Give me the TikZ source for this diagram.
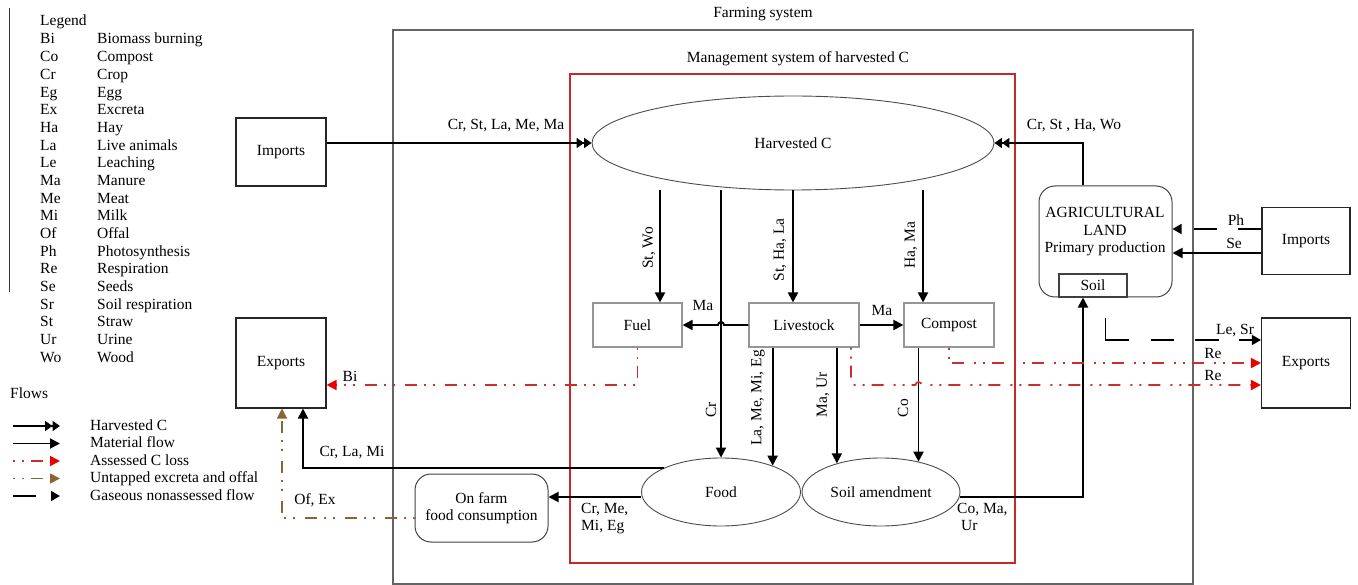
\documentclass[tikz,border=0pt]{standalone}
\usepackage{fontspec}
\setmainfont{Liberation Serif}
\usetikzlibrary{arrows.meta,shapes.geometric,calc}
\definecolor{cFarm}{RGB}{100,100,100}
\definecolor{cMgmt}{RGB}{200,40,40}
\definecolor{cLoss}{RGB}{205,45,45}
\definecolor{cLossTip}{RGB}{235,0,0}
\definecolor{cUntap}{RGB}{140,100,50}
\definecolor{cBox}{RGB}{150,150,150}

\begin{document}
\begin{tikzpicture}[x=1pt,y=-1pt,font=\fontsize{15.5}{17.5}\selectfont,
  box/.style={draw=black!85,line width=1.1pt,inner sep=0pt},
  grbox/.style={draw=cBox,line width=1.1pt,inner sep=0pt,minimum height=44pt},
  rbox/.style={draw=black!75,line width=1pt,rounded corners=16pt,inner sep=0pt},
  ell/.style={ellipse,draw=black!70,line width=0.9pt,inner sep=0pt},
  mflow/.style={line width=1.9pt,-{Triangle[length=10pt,width=10pt]}},
  hflow/.style={line width=1.7pt,-{Triangle[length=7.5pt,width=10pt]Triangle[length=7.5pt,width=10pt]}},
  loss/.style={cLoss,line width=1.7pt,dash pattern=on 2pt off 7pt on 2pt off 7pt on 12pt off 10pt,-{Triangle[length=10pt,width=10pt,color=cLossTip]}},
  untap/.style={loss,cUntap,-{Triangle[length=10pt,width=10pt,color=cUntap]}},
  gflow/.style={line width=1.5pt,dash pattern=on 23pt off 21pt,-{Triangle[length=9pt,width=10pt]}},
  lbl/.style={inner sep=0pt},
  legtext/.style={anchor=base west,inner sep=0pt}]
\useasboundingbox (0,0) rectangle (1358,585);

% legend
\draw[black!80,line width=1pt] (9,8) -- (9,292);
\node[legtext] (legtitle) at (40,26) {Legend};
\foreach \ab/\txt [count=\i] in {Bi/Biomass burning,Co/Compost,Cr/Crop,Eg/Egg,Ex/Excreta,Ha/Hay,La/Live animals,Le/Leaching,Ma/Manure,Me/Meat,Mi/Milk,Of/Offal,Ph/Photosynthesis,Re/Respiration,Se/Seeds,Sr/Soil respiration,St/Straw,Ur/Urine,Wo/Wood}{
  \node[legtext] (ab\i) at (40,{44+17.67*(\i-1)}) {\ab};
  \node[legtext] (tx\i) at (97,{44+17.67*(\i-1)}) {\txt};
}
\node[legtext] (flows) at (10,399) {Flows};
\foreach \st/\txt [count=\i] in {hflow/Harvested C,mflow/Material flow,loss/Assessed C loss,untap/Untapped excreta and offal,gflow/Gaseous nonassessed flow}{
  \node[legtext] (fl\i) at (90,{430+17.5*(\i-1)}) {\txt};
  \coordinate (fa\i) at (13,{426+17.5*(\i-1)});
  \coordinate (fb\i) at (60,{426+17.5*(\i-1)});
  \draw[\st] (fa\i) -- (fb\i);
}

% system boundaries
\node[draw=cFarm,line width=1.1pt,minimum width=800pt,minimum height=554pt] (farm) at (793,307) {};
\node[lbl] (farmtitle) at (763,14) {Farming system};
\node[draw=cMgmt,line width=1.6pt,minimum width=445pt,minimum height=489pt] (mgmt) at (792.5,318.5) {};
\node[lbl] (mgmttitle) at (798,59) {Management system of harvested C};

% compartments
\node[box,minimum width=90pt,minimum height=68pt] (imp1) at (281,152) {Imports};
\node[box,minimum width=90pt,minimum height=90pt] (exp1) at (281,363) {Exports};
\node[box,minimum width=88pt,minimum height=67pt] (imp2) at (1306,241) {Imports};
\node[box,minimum width=89pt,minimum height=90pt] (exp2) at (1306,363) {Exports};
\node[ell,minimum width=402pt,minimum height=94pt] (harv) at (793,143) {Harvested C};
\node[grbox,minimum width=89pt] (fuel) at (637.5,325) {Fuel};
\node[grbox,minimum width=110pt] (lives) at (804,325) {Livestock};
\node[grbox,minimum width=90pt] (compost) at (949,325) {Compost};
\node[ell,minimum width=159pt,minimum height=68pt] (food) at (721,492) {Food};
\node[ell,minimum width=158pt,minimum height=68pt] (soilam) at (881,492) {Soil amendment};
\node[rbox,minimum width=133pt,minimum height=68pt,align=center] (onfarm) at (481.5,508) {On farm\\food consumption};
\node[rbox,minimum width=133pt,minimum height=111pt] (agri) at (1105.5,241.5) {};
\node[align=center,inner sep=0pt] (agritxt) at (1105,232) {AGRICULTURAL\\LAND\\Primary production};
\node[box,draw=black!75,minimum width=68pt,minimum height=23pt] (soil) at (1093,285.5) {Soil};

% harvested C inflows
\draw[hflow] (imp1.east |- harv.west) -- (harv.west);
\node[lbl] (l-imp) at (506,126) {Cr, St, La, Me, Ma};
\draw[hflow] ($(agri.north)+(-22.5,0)$) |- (harv.east);
\node[lbl] (l-land) at (1074,126) {Cr, St , Ha, Wo};

% from harvested C
\coordinate (xSt) at (660,0);
\coordinate (xHa) at (923,0);
\draw[mflow] (harv.south -| xSt) -- (fuel.north -| xSt);
\node[lbl,rotate=90] (l-stwo) at (649,248) {St, Wo};
\draw[mflow] (harv.south -| food.north) -- (food.north);
\node[lbl,rotate=90] (l-cr) at (711,410) {Cr};
\draw[mflow] (harv.south) -- (harv.south |- lives.north);
\node[lbl,rotate=90] (l-stha) at (780,250) {St, Ha, La};
\draw[mflow] (harv.south -| xHa) -- (compost.north -| xHa);
\node[lbl,rotate=90] (l-hama) at (911,245) {Ha, Ma};

% livestock outputs
\coordinate (hopL) at ($(food.north |- lives.west)+(3,0)$);
\draw[mflow] (lives.west) -- (hopL) arc[start angle=0,end angle=180,radius=3pt] -- (fuel.east);
\node[lbl] (l-ma1) at (703,306) {Ma};
\draw[mflow] (lives.east) -- (compost.west);
\node[lbl] (l-ma2) at (882,311) {Ma};
\draw[mflow] (lives.south -| food.27) -- (food.27);
\node[lbl,rotate=90] (l-lame) at (758,398) {La, Me, Mi, Eg};
\draw[mflow] (lives.south -| soilam.147) -- (soilam.147);
\node[lbl,rotate=90] (l-maur) at (823,395) {Ma, Ur};
\draw[mflow] (compost.south -| soilam.39) -- (soilam.39);
\node[lbl,rotate=90] (l-co) at (903,408) {Co};

% food outputs
\coordinate (fw) at ([yshift=-5pt]food.west);
\draw[mflow] (fw) -- (fw -| onfarm.east);
\node[lbl,align=left,anchor=north west] (l-food) at (581,503) {Cr, Me,\\Mi, Eg};
\draw[mflow] (food.157) -| ($(exp1.south)+(22,0)$);
\node[lbl] (l-crla) at (352,453) {Cr, La, Mi};
\coordinate (ow) at ([yshift=-10pt]onfarm.west);
\draw[untap] (ow) -| ($(exp1.south)+(1,0)$);
\node[lbl] (l-ofex) at (315,500) {Of, Ex};

% soil amendment back to land
\coordinate (sw) at ([yshift=-5pt]soilam.east);
\draw[mflow] (sw) -| ($(soil.south)+(-10,0)$);
\node[lbl,align=left,anchor=north west] (l-soil) at (957,503) {Co, Ma,\\\hspace{4pt}Ur};

% land exchanges
\coordinate (ph) at ([yshift=12pt]imp2.west);
\draw[gflow] (ph) -- (ph -| agri.east);
\node[lbl] (l-ph) at (1236,220) {Ph};
\coordinate (sd) at ([yshift=-12pt]imp2.west);
\draw[mflow] (sd) -- (sd -| agri.east);
\node[lbl] (l-se) at (1234,243) {Se};
\coordinate (lsr) at ($(agri.south)+(0,21)$);
\draw[gflow,dash pattern=on 45pt off 22pt on 23pt off 21pt on 24pt off 20pt on 60pt] (lsr) |- ([yshift=23pt]exp2.west);
\node[lbl] (l-lesr) at (1235,331) {Le, Sr};

% losses
\draw[loss] (compost.south) |- (exp2.west);
\node[lbl] (l-re1) at (1213,354) {Re};
\coordinate (hopR) at ($(soilam.39 |- exp2.west)+(-3,22)$);
\draw[loss] ($(lives.south)+(47,0)$) |- (hopR) arc[start angle=180,end angle=0,radius=3pt] -- ([yshift=-22pt]exp2.west);
\node[lbl] (l-re2) at (1213,376) {Re};
\draw[loss] (fuel.south) |- ([yshift=-22pt]exp1.east);
\node[lbl] (l-bi) at (350,376) {Bi};
\end{tikzpicture}
\end{document}
